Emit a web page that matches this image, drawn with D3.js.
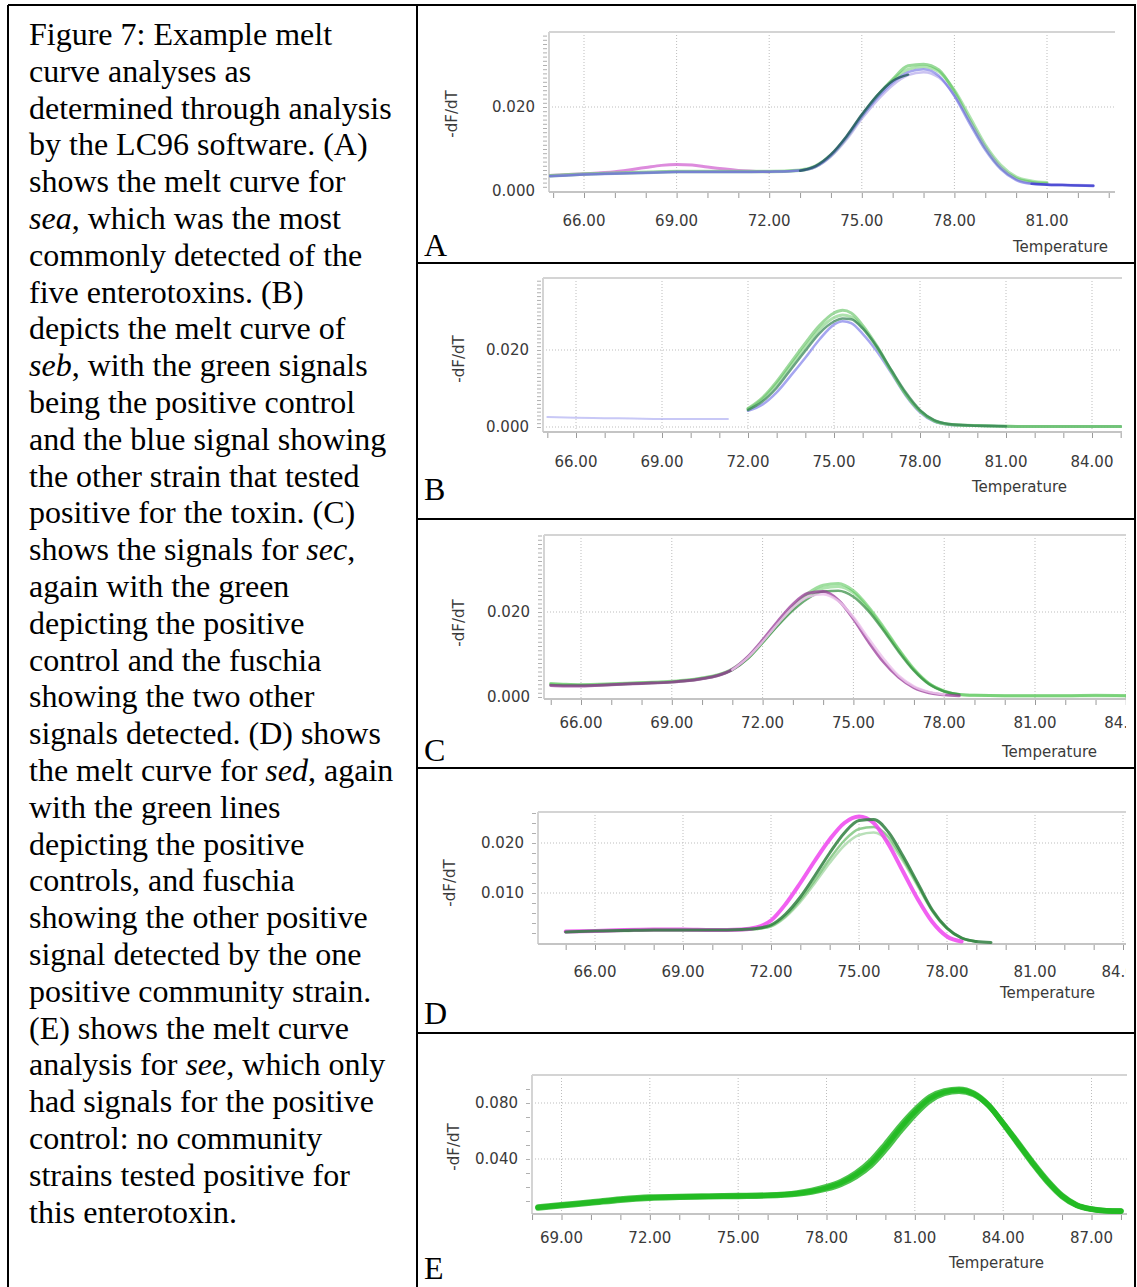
<!DOCTYPE html>
<html>
<head>
<meta charset="utf-8">
<script src="https://cdn.jsdelivr.net/npm/d3@7"></script>
<style>
  body { margin: 0; background: #fff; }
  svg { display: block; }
</style>
</head>
<body>
<svg id="fig" width="1137" height="1287"></svg>
<script>
// ── Caption (italic words wrapped in *) ──────────────────────────────────────
const captionLines = [
  'Figure 7: Example melt',
  'curve analyses as',
  'determined through analysis',
  'by the LC96 software. (A)',
  'shows the melt curve for',
  '*sea*, which was the most',
  'commonly detected of the',
  'five enterotoxins. (B)',
  'depicts the melt curve of',
  '*seb*, with the green signals',
  'being the positive control',
  'and the blue signal showing',
  'the other strain that tested',
  'positive for the toxin. (C)',
  'shows the signals for *sec*,',
  'again with the green',
  'depicting the positive',
  'control and the fuschia',
  'showing the two other',
  'signals detected. (D) shows',
  'the melt curve for *sed*, again',
  'with the green lines',
  'depicting the positive',
  'controls, and fuschia',
  'showing the other positive',
  'signal detected by the one',
  'positive community strain.',
  '(E) shows the melt curve',
  'analysis for *see*, which only',
  'had signals for the positive',
  'control: no community',
  'strains tested positive for',
  'this enterotoxin.'
]

// ── Panel A (sea) ────────────────────────────────────────────────────────────
const tempA = [64.9, 65.5, 66, 67, 68, 68.5, 69, 69.5, 70, 71, 72, 73, 73.5, 74, 74.5, 75, 75.5, 76, 76.5, 77, 77.5, 78, 78.5, 79, 79.5, 80, 80.5, 81, 81.5, 82, 82.5]
const seaGreen1 = [0.0036, 0.0038, 0.0040, 0.0042, 0.0044, 0.0045, 0.0046, 0.0046, 0.0046, 0.0046, 0.0046, 0.0049, 0.0058, 0.0084, 0.0126, 0.0178, 0.0226, 0.0266, 0.0298, 0.0302, 0.0288, 0.0236, 0.0168, 0.0104, 0.0056, 0.0030, 0.0021, 0.0018, null, null, null]
const seaGreen2 = [0.0037, 0.0039, 0.0041, 0.0043, 0.0045, 0.0046, 0.0047, 0.0047, 0.0047, 0.0047, 0.0047, 0.0050, 0.0060, 0.0086, 0.0128, 0.0180, 0.0226, 0.0264, 0.0290, 0.0296, 0.0284, 0.0240, 0.0176, 0.0110, 0.0062, 0.0034, 0.0024, 0.0020, null, null, null]
const seaBlue1 = [0.0035, 0.0037, 0.0039, 0.0041, 0.0043, 0.0044, 0.0045, 0.0045, 0.0045, 0.0045, 0.0046, 0.0049, 0.0058, 0.0085, 0.0128, 0.0178, 0.0222, 0.0258, 0.0283, 0.0290, 0.0274, 0.0226, 0.0160, 0.0098, 0.0052, 0.0026, 0.0017, 0.0015, 0.0014, 0.0013, 0.0013]
const seaBlue2 = [0.0036, 0.0038, 0.0040, 0.0042, 0.0044, 0.0045, 0.0046, 0.0046, 0.0046, 0.0046, 0.0046, 0.0049, 0.0057, 0.0082, 0.0122, 0.0172, 0.0216, 0.0252, 0.0276, 0.0283, 0.0270, 0.0228, 0.0166, 0.0104, 0.0056, 0.0028, 0.0018, 0.0016, 0.0015, 0.0014, 0.0013]
const seaBlueTail = [null, null, null, null, null, null, null, null, null, null, null, null, null, null, null, null, null, null, null, null, null, null, null, null, null, null, 0.0017, 0.0015, 0.0014, 0.0013, 0.0012]
const seaTeal = [null, null, null, null, null, null, null, null, null, null, null, 0.0048, 0.0059, 0.0087, 0.0130, 0.0182, 0.0228, 0.0262, 0.0277, null, null, null, null, null, null, null, null, null, null, null, null]
const seaMagenta = [0.0037, 0.0039, 0.0041, 0.0046, 0.0056, 0.0061, 0.0063, 0.0062, 0.0057, 0.0049, 0.0046, null, null, null, null, null, null, null, null, null, null, null, null, null, null, null, null, null, null, null, null]

// ── Panel B (seb) ────────────────────────────────────────────────────────────
const tempB = [65, 66, 67, 68, 69, 70, 71, 71.3, 72, 72.5, 73, 73.5, 74, 74.5, 75, 75.3, 75.6, 76, 76.5, 77, 77.5, 78, 78.5, 79, 79.5, 80, 81, 82, 83, 84, 85]
const sebBase = [0.0026, 0.0024, 0.0023, 0.0022, 0.0021, 0.0021, 0.0021, 0.0021, null, null, null, null, null, null, null, null, null, null, null, null, null, null, null, null, null, null, null, null, null, null, null]
const sebGreen1 = [null, null, null, null, null, null, null, null, 0.0048, 0.0076, 0.0118, 0.0168, 0.0218, 0.0264, 0.0296, 0.0303, 0.0296, 0.0264, 0.0210, 0.0146, 0.0086, 0.0042, 0.0016, 0.0007, 0.0004, 0.0004, 0.0002, 0.0001, 0.0001, 0.0001, 0.0001]
const sebGreen2 = [null, null, null, null, null, null, null, null, 0.0046, 0.0072, 0.0112, 0.0160, 0.0208, 0.0254, 0.0284, 0.0291, 0.0286, 0.0258, 0.0206, 0.0144, 0.0085, 0.0041, 0.0016, 0.0007, 0.0005, 0.0003, 0.0002, 0.0001, 0.0001, 0.0001, 0.0001]
const sebDark = [null, null, null, null, null, null, null, null, 0.0044, 0.0066, 0.0102, 0.0150, 0.0198, 0.0244, 0.0274, 0.0282, 0.0280, 0.0256, 0.0208, 0.0148, 0.0090, 0.0044, 0.0018, 0.0008, 0.0005, 0.0003, 0.0002, null, null, null, null]
const sebBlue = [null, null, null, null, null, null, null, null, 0.0042, 0.0058, 0.0090, 0.0134, 0.0180, 0.0228, 0.0266, 0.0275, 0.0270, 0.0242, 0.0196, 0.0140, 0.0082, 0.0038, 0.0014, 0.0006, 0.0004, 0.0003, 0.0002, 0.0001, 0.0001, 0.0001, 0.0001]

// ── Panel C (sec) ────────────────────────────────────────────────────────────
const tempC = [65, 65.5, 66, 67, 68, 69, 69.5, 70, 70.5, 71, 71.5, 72, 72.5, 73, 73.5, 74, 74.5, 75, 75.5, 76, 76.5, 77, 77.5, 78, 78.5, 79, 80, 81, 82, 83, 84]
const secGreen1 = [0.0032, 0.0030, 0.0029, 0.0031, 0.0034, 0.0037, 0.0040, 0.0045, 0.0052, 0.0066, 0.0092, 0.0130, 0.0172, 0.0212, 0.0244, 0.0263, 0.0267, 0.0250, 0.0212, 0.0164, 0.0112, 0.0066, 0.0032, 0.0014, 0.0006, 0.0004, 0.0003, 0.0003, 0.0003, 0.0004, 0.0003]
const secGreen2 = [0.0030, 0.0029, 0.0028, 0.0030, 0.0033, 0.0036, 0.0039, 0.0044, 0.0051, 0.0064, 0.0090, 0.0128, 0.0170, 0.0208, 0.0238, 0.0256, 0.0260, 0.0245, 0.0208, 0.0160, 0.0110, 0.0064, 0.0031, 0.0014, 0.0006, 0.0004, 0.0003, 0.0003, 0.0003, 0.0003, 0.0003]
const secDark = [0.0028, 0.0027, 0.0027, 0.0029, 0.0032, 0.0035, 0.0038, 0.0043, 0.0050, 0.0064, 0.0090, 0.0128, 0.0168, 0.0204, 0.0232, 0.0248, 0.0250, 0.0236, 0.0202, 0.0156, 0.0106, 0.0062, 0.0030, 0.0013, 0.0006, null, null, null, null, null, null]
const secFuchsia1 = [0.0027, 0.0026, 0.0026, 0.0029, 0.0032, 0.0035, 0.0038, 0.0043, 0.0050, 0.0065, 0.0094, 0.0134, 0.0178, 0.0218, 0.0244, 0.0248, 0.0228, 0.0184, 0.0130, 0.0082, 0.0046, 0.0022, 0.0010, 0.0005, 0.0003, null, null, null, null, null, null]
const secFuchsia2 = [null, null, null, null, null, null, null, null, null, 0.0064, 0.0092, 0.0130, 0.0172, 0.0210, 0.0236, 0.0242, 0.0226, 0.0188, 0.0138, 0.0090, 0.0050, 0.0025, 0.0012, 0.0006, null, null, null, null, null, null, null]

// ── Panel D (sed) ────────────────────────────────────────────────────────────
const tempD = [65, 66, 67, 68, 69, 70, 71, 71.5, 72, 72.5, 73, 73.5, 74, 74.5, 75, 75.5, 76, 76.5, 77, 77.5, 78, 78.5, 79, 79.5]
const sedMagenta = [0.0023, 0.0024, 0.0026, 0.0027, 0.0027, 0.0026, 0.0027, 0.0031, 0.0045, 0.0078, 0.0120, 0.0165, 0.0207, 0.0240, 0.0253, 0.0240, 0.0198, 0.0143, 0.0088, 0.0042, 0.0013, 0.0003, null, null]
const sedDark = [0.0022, 0.0024, 0.0025, 0.0026, 0.0026, 0.0026, 0.0027, 0.0029, 0.0036, 0.0058, 0.0092, 0.0135, 0.0180, 0.0220, 0.0245, 0.0247, 0.0222, 0.0174, 0.0120, 0.0066, 0.0030, 0.0010, 0.0003, 0.0001]
const sedGreen1 = [0.0022, 0.0023, 0.0025, 0.0026, 0.0026, 0.0026, 0.0026, 0.0028, 0.0034, 0.0054, 0.0086, 0.0126, 0.0168, 0.0205, 0.0228, 0.0232, 0.0212, 0.0168, 0.0116, 0.0064, 0.0029, 0.0010, 0.0003, null]
const sedGreen2 = [0.0022, 0.0023, 0.0024, 0.0025, 0.0025, 0.0025, 0.0026, 0.0028, 0.0033, 0.0052, 0.0082, 0.0120, 0.0160, 0.0195, 0.0216, 0.0221, 0.0204, 0.0164, 0.0114, 0.0064, 0.0029, 0.0010, 0.0003, null]

// ── Panel E (see) ────────────────────────────────────────────────────────────
const tempE = [68.2, 69, 70, 71, 72, 73, 74, 75, 76, 77, 77.5, 78, 78.5, 79, 79.5, 80, 80.5, 81, 81.5, 82, 82.5, 83, 83.5, 84, 84.5, 85, 85.5, 86, 86.5, 87, 87.5, 88]
const seeGreen1 = [0.0054, 0.0070, 0.0089, 0.0110, 0.0124, 0.0129, 0.0133, 0.0136, 0.0140, 0.0154, 0.0170, 0.0194, 0.0230, 0.0288, 0.0370, 0.0488, 0.0618, 0.0735, 0.0830, 0.0878, 0.0893, 0.0866, 0.0784, 0.0654, 0.0513, 0.0372, 0.0242, 0.0136, 0.0070, 0.0042, 0.0030, 0.0028]
const seeGreen2 = [0.0050, 0.0066, 0.0085, 0.0106, 0.0120, 0.0126, 0.0130, 0.0133, 0.0137, 0.0150, 0.0164, 0.0186, 0.0220, 0.0274, 0.0352, 0.0466, 0.0596, 0.0716, 0.0814, 0.0868, 0.0884, 0.0860, 0.0782, 0.0656, 0.0518, 0.0378, 0.0248, 0.0140, 0.0072, 0.0043, 0.0030, 0.0027]
const seeGreen3 = [0.0058, 0.0074, 0.0093, 0.0114, 0.0128, 0.0132, 0.0136, 0.0139, 0.0143, 0.0158, 0.0176, 0.0202, 0.0240, 0.0300, 0.0386, 0.0506, 0.0636, 0.0750, 0.0842, 0.0886, 0.0898, 0.0870, 0.0786, 0.0652, 0.0508, 0.0366, 0.0236, 0.0132, 0.0068, 0.0041, 0.0030, 0.0028]

// Tick labels
const xTicksA = [66, 69, 72, 75, 78, 81]
const xTicksBD = [66, 69, 72, 75, 78, 81, 84]
const xTicksE = [69, 72, 75, 78, 81, 84, 87]
const yTicksAC = [0, 0.02]
const yTicksD = [0.01, 0.02]
const yTicksE = [0.04, 0.08]

// ── Layout ───────────────────────────────────────────────────────────────────
const BORDER = { left: 8, mid: 417, right: 1135, top: 5 }
const rowLines = [263, 519, 768, 1033]
const CAPTION = { x: 29, y0: 45, lineH: 36.8 }
const AXIS_FONT = 'DejaVu Sans, Verdana, sans-serif'
const SERIF = 'Liberation Serif, Times New Roman, serif'

const panels = [
  {
    letter: 'A', letterY: 256,
    plot: { x0: 549, x1: 1115, y0: 32, y1: 192 },
    xDom: [66, 81], xRange: [584, 1047], yDom: [0, 0.02], yRange: [191, 107],
    xTicks: xTicksA, xMinor: [65, 83], yTicks: yTicksAC, yMinorStep: 0.001,
    tickLabelY: 226, tempY: 252, tempX: 1108, yTitle: [452, 114],
    series: [
      { t: tempA, v: seaMagenta, color: '#d264d2', w: 3, o: 0.75 },
      { t: tempA, v: seaGreen2, color: '#8fd88f', w: 3, o: 0.7 },
      { t: tempA, v: seaGreen1, color: '#55c255', w: 3, o: 0.6 },
      { t: tempA, v: seaBlue2, color: '#a79ae8', w: 2.5, o: 0.6 },
      { t: tempA, v: seaBlue1, color: '#5c5ce0', w: 2.5, o: 0.55 },
      { t: tempA, v: seaBlueTail, color: '#3434cc', w: 2.5, o: 0.7 },
      { t: tempA, v: seaTeal, color: '#21585c', w: 2.5, o: 0.8 }
    ]
  },
  {
    letter: 'B', letterY: 500,
    plot: { x0: 543, x1: 1122, y0: 278, y1: 432 },
    xDom: [66, 84], xRange: [576, 1092], yDom: [0, 0.02], yRange: [427, 350],
    xTicks: xTicksBD, xMinor: [65, 85], yTicks: yTicksAC, yMinorStep: 0.001,
    tickLabelY: 467, tempY: 492, tempX: 1067, yTitle: [459, 359],
    series: [
      { t: tempB, v: sebBase, color: '#a4a4f0', w: 2, o: 0.6 },
      { t: tempB, v: sebBlue, color: '#6a6ae6', w: 2.5, o: 0.6 },
      { t: tempB, v: sebGreen2, color: '#8cd68c', w: 3, o: 0.7 },
      { t: tempB, v: sebGreen1, color: '#5cc05c', w: 3, o: 0.6 },
      { t: tempB, v: sebDark, color: '#2e7d4f', w: 2.5, o: 0.7 }
    ]
  },
  {
    letter: 'C', letterY: 761,
    plot: { x0: 544, x1: 1126, y0: 535, y1: 699 },
    xDom: [66, 81], xRange: [581, 1035], yDom: [0, 0.02], yRange: [697, 612],
    xTicks: xTicksBD, xMinor: [65, 85], yTicks: yTicksAC, yMinorStep: 0.001,
    tickLabelY: 728, tempY: 757, tempX: 1097, yTitle: [459, 623],
    series: [
      { t: tempC, v: secGreen2, color: '#8ad88a', w: 3, o: 0.7 },
      { t: tempC, v: secGreen1, color: '#4fc24f', w: 3, o: 0.55 },
      { t: tempC, v: secDark, color: '#2f8a3c', w: 2.5, o: 0.7 },
      { t: tempC, v: secFuchsia1, color: '#9a3a9a', w: 3, o: 0.75 },
      { t: tempC, v: secFuchsia2, color: '#ecc4ec', w: 2.5, o: 0.85 }
    ]
  },
  {
    letter: 'D', letterY: 1024,
    plot: { x0: 538, x1: 1126, y0: 812, y1: 944 },
    xDom: [66, 81], xRange: [595, 1035], yDom: [0.01, 0.02], yRange: [893, 843],
    xTicks: xTicksBD, xMinor: [65, 85], yTicks: yTicksD, yMinorStep: 0.002,
    tickLabelY: 977, tempY: 998, tempX: 1095, yTitle: [450, 883],
    series: [
      { t: tempD, v: sedGreen2, color: '#a8d8a8', w: 2.5, o: 0.8 },
      { t: tempD, v: sedGreen1, color: '#6fbf6f', w: 2.5, o: 0.75 },
      { t: tempD, v: sedMagenta, color: '#ee44ee', w: 4, o: 0.85 },
      { t: tempD, v: sedDark, color: '#2f7f3f', w: 3, o: 0.85 }
    ]
  },
  {
    letter: 'E', letterY: 1279,
    plot: { x0: 532, x1: 1127, y0: 1075, y1: 1214 },
    xDom: [69, 87], xRange: [561.5, 1091.5], yDom: [0.04, 0.08], yRange: [1159, 1103],
    xTicks: xTicksE, xMinor: [68, 89], yTicks: yTicksE, yMinorStep: 0.01,
    tickLabelY: 1243, tempY: 1268, tempX: 1044, yTitle: [454, 1147],
    series: [
      { t: tempE, v: seeGreen2, color: '#1fb41f', w: 5.5, o: 0.8 },
      { t: tempE, v: seeGreen3, color: '#1fb41f', w: 5.5, o: 0.8 },
      { t: tempE, v: seeGreen1, color: '#22bb22', w: 5, o: 0.9 }
    ]
  }
]

const svg = d3.select('#fig')
const defs = svg.append('defs')

// ── Table borders ────────────────────────────────────────────────────────────
const frame = svg.append('g').attr('stroke', '#000').attr('stroke-width', 2).attr('fill', 'none')
frame.append('line').attr('x1', BORDER.left).attr('x2', BORDER.right + 1).attr('y1', BORDER.top).attr('y2', BORDER.top)
frame.append('line').attr('x1', BORDER.left).attr('x2', BORDER.left).attr('y1', BORDER.top).attr('y2', 1287)
frame.append('line').attr('x1', BORDER.mid).attr('x2', BORDER.mid).attr('y1', BORDER.top).attr('y2', 1287)
frame.append('line').attr('x1', BORDER.right).attr('x2', BORDER.right).attr('y1', BORDER.top).attr('y2', 1287)
rowLines.forEach(y => {
  frame.append('line').attr('x1', BORDER.mid).attr('x2', BORDER.right).attr('y1', y).attr('y2', y)
})

// ── Caption ──────────────────────────────────────────────────────────────────
const caption = svg.append('text')
  .attr('font-family', SERIF).attr('font-size', 32).attr('fill', '#000')
captionLines.forEach((line, i) => {
  const row = caption.append('tspan').attr('x', CAPTION.x).attr('y', CAPTION.y0 + i * CAPTION.lineH)
  line.split('*').forEach((part, j) => {
    if (!part) return
    row.append('tspan').attr('font-style', j % 2 ? 'italic' : null).text(part)
  })
})

// ── Panels ───────────────────────────────────────────────────────────────────
panels.forEach(p => {
  const x = d3.scaleLinear().domain(p.xDom).range(p.xRange)
  const y = d3.scaleLinear().domain(p.yDom).range(p.yRange)
  const { x0, x1, y0, y1 } = p.plot

  defs.append('clipPath').attr('id', 'plot' + p.letter)
    .append('rect').attr('x', x0).attr('y', y0).attr('width', x1 - x0).attr('height', y1 - y0)
  defs.append('clipPath').attr('id', 'cell' + p.letter)
    .append('rect').attr('x', BORDER.mid).attr('y', y0 - 20).attr('width', x1 - BORDER.mid).attr('height', 300)

  const g = svg.append('g').attr('clip-path', `url(#cell${p.letter})`)

  // grid
  g.append('g').selectAll('line').data(p.xTicks.filter(d => x(d) < x1)).join('line')
    .attr('x1', d => x(d)).attr('x2', d => x(d)).attr('y1', y0).attr('y2', y1)
    .attr('stroke', '#bdbdbd').attr('stroke-dasharray', '1,2')
  g.append('g').selectAll('line').data(p.yTicks.filter(d => y(d) < y1 - 3)).join('line')
    .attr('x1', x0).attr('x2', x1).attr('y1', d => y(d)).attr('y2', d => y(d))
    .attr('stroke', '#bdbdbd').attr('stroke-dasharray', '1,2')

  // plot frame (top + left + bottom)
  g.append('line').attr('x1', x0).attr('x2', x1).attr('y1', y0).attr('y2', y0).attr('stroke', '#d4d4d4').attr('stroke-width', 2)
  g.append('line').attr('x1', x0).attr('x2', x0).attr('y1', y0).attr('y2', y1).attr('stroke', '#d4d4d4').attr('stroke-width', 2)
  g.append('line').attr('x1', x0).attr('x2', x1).attr('y1', y1).attr('y2', y1).attr('stroke', '#c4c4c4').attr('stroke-width', 2)

  // x axis: minor ticks every degree, labels every 3
  const minor = d3.range(p.xMinor[0], p.xMinor[1] + 1, 1)
  const xMinorAxis = g.append('g').attr('transform', `translate(0,${y1 + 1})`)
    .call(d3.axisBottom(x).tickValues(minor).tickSize(5).tickFormat(''))
  xMinorAxis.select('.domain').remove()
  xMinorAxis.selectAll('line').attr('stroke', '#9a9a9a')

  const xLab = g.append('g')
  xLab.selectAll('text').data(p.xTicks).join('text')
    .attr('x', d => x(d)).attr('y', p.tickLabelY)
    .attr('text-anchor', 'middle')
    .attr('font-family', AXIS_FONT).attr('font-size', 15).attr('fill', '#3a3a3a')
    .text(d => d3.format('.2f')(d))

  // y axis: dense minor ticks and two labelled values
  const yTop = y.invert(y0)
  const yMinor = d3.range(0, yTop, p.yMinorStep).filter(d => y(d) <= y1 - 2)
  const yAxis = g.append('g').attr('transform', `translate(${x0 - 2},0)`)
    .call(d3.axisLeft(y).tickValues(yMinor).tickSize(4).tickFormat(''))
  yAxis.select('.domain').remove()
  yAxis.selectAll('line').attr('stroke', '#b0b0b0')

  g.append('g').selectAll('text').data(p.yTicks).join('text')
    .attr('x', x0 - 14).attr('y', d => y(d)).attr('dy', '0.36em')
    .attr('text-anchor', 'end')
    .attr('font-family', AXIS_FONT).attr('font-size', 15).attr('fill', '#3a3a3a')
    .text(d => d3.format('.3f')(d))

  g.append('text')
    .attr('transform', `translate(${p.yTitle[0]},${p.yTitle[1]}) rotate(-90)`)
    .attr('text-anchor', 'middle').attr('dy', '0.35em')
    .attr('font-family', AXIS_FONT).attr('font-size', 15).attr('fill', '#3a3a3a')
    .text('-dF/dT')

  g.append('text')
    .attr('x', p.tempX).attr('y', p.tempY).attr('text-anchor', 'end')
    .attr('font-family', AXIS_FONT).attr('font-size', 15).attr('fill', '#3a3a3a')
    .text('Temperature')

  // curves
  const line = d3.line()
    .defined(d => d[1] != null)
    .x(d => x(d[0])).y(d => y(d[1]))
    .curve(d3.curveMonotoneX)
  const curves = svg.append('g').attr('clip-path', `url(#plot${p.letter})`)
  p.series.forEach(s => {
    curves.append('path')
      .datum(s.t.map((t, i) => [t, s.v[i]]))
      .attr('d', line)
      .attr('fill', 'none')
      .attr('stroke', s.color).attr('stroke-width', s.w).attr('stroke-opacity', s.o)
      .attr('stroke-linecap', 'round').attr('stroke-linejoin', 'round')
  })

  // panel letter
  svg.append('text')
    .attr('x', 424).attr('y', p.letterY)
    .attr('font-family', SERIF).attr('font-size', 32).attr('fill', '#000')
    .text(p.letter)
})
</script>
</body>
</html>
